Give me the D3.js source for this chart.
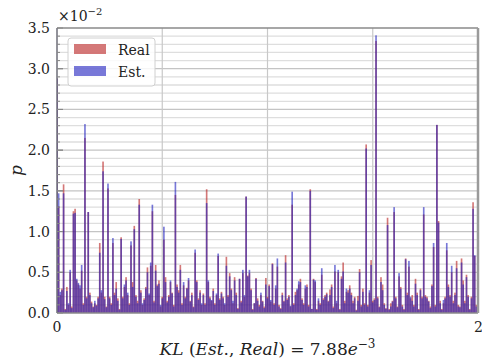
<!DOCTYPE html>
<html>
<head>
<meta charset="utf-8">
<script src="https://cdn.jsdelivr.net/npm/d3@7"></script>
<style>
  body { margin: 0; background: #fff; }
  svg { display: block; }
  text { font-family: "DejaVu Serif", serif; fill: #222; }
</style>
</head>
<body>
<div id="chart"></div>
<script>
// probabilities in units of 1e-2, one value per symbol 0..255
var realP = [
  2.88,1.31,0.22,0.30,1.58,0.05,0.32,0.10,0.50,0.08,1.25,1.28,0.40,0.35,0.30,0.52,
  0.12,2.15,0.20,1.24,0.25,0.14,0.08,0.12,0.10,0.20,0.86,0.25,1.86,0.20,0.08,1.53,
  0.20,0.12,0.86,0.25,0.38,0.18,0.05,0.93,0.20,0.32,0.44,0.22,0.12,0.83,0.38,1.07,
  0.22,0.15,1.40,0.28,0.10,0.18,0.32,0.56,0.22,0.58,1.25,0.15,0.59,0.35,0.40,0.08,
  0.20,0.90,0.44,0.15,0.22,0.38,0.25,0.10,1.45,0.35,0.28,0.59,0.12,0.34,0.20,0.31,
  0.40,0.15,0.25,0.08,0.74,0.40,0.18,0.28,0.10,0.24,0.12,1.52,0.38,0.20,0.15,0.30,
  0.12,0.22,0.70,0.18,0.26,0.20,0.10,0.69,0.22,0.49,0.30,0.12,0.44,0.25,0.06,0.42,
  0.15,0.49,0.20,1.43,0.46,0.49,0.30,0.05,0.12,0.43,0.18,0.10,0.22,0.15,0.08,0.43,
  0.20,0.35,0.14,0.61,0.12,0.30,0.57,0.10,0.06,0.25,0.15,0.71,0.18,0.22,0.08,1.33,
  0.12,0.26,0.28,0.35,0.42,0.18,0.12,0.30,0.35,0.10,1.52,0.05,0.42,0.38,0.05,0.15,
  0.12,0.47,0.18,0.22,0.25,0.15,0.29,0.35,0.08,0.51,0.12,0.50,0.05,0.45,0.62,0.15,
  0.26,0.28,0.34,0.25,0.15,0.20,0.04,0.21,0.54,0.10,0.30,0.12,2.07,0.10,0.25,0.65,
  0.15,0.18,3.34,0.20,0.08,0.44,0.35,0.12,0.06,1.17,0.05,0.12,0.15,1.24,0.20,0.08,
  0.45,0.32,0.10,0.05,0.67,0.25,0.57,0.18,0.22,0.10,0.42,0.25,0.05,0.30,0.20,1.21,
  0.22,0.20,0.15,0.08,0.35,0.81,0.10,2.31,1.13,0.15,0.05,0.12,0.20,0.77,0.35,0.22,
  0.50,0.15,0.25,0.64,0.10,0.08,0.67,0.40,0.15,0.47,0.22,0.05,0.20,1.36,0.70,0.10
];
var estP = [
  2.88,1.47,0.26,0.28,1.47,0.04,0.27,0.12,0.53,0.06,1.22,1.23,0.42,0.37,0.34,0.59,
  0.10,2.32,0.18,1.24,0.22,0.12,0.07,0.15,0.09,0.18,0.74,0.28,1.74,0.17,0.07,1.59,
  0.18,0.10,0.92,0.22,0.30,0.15,0.04,0.91,0.18,0.35,0.40,0.25,0.10,0.88,0.32,1.03,
  0.20,0.12,1.33,0.25,0.12,0.16,0.30,0.50,0.24,0.62,1.33,0.13,0.52,0.33,0.36,0.10,
  0.18,1.06,0.38,0.13,0.20,0.40,0.24,0.08,1.61,0.32,0.25,0.53,0.10,0.38,0.18,0.30,
  0.43,0.14,0.22,0.07,0.78,0.38,0.16,0.25,0.12,0.22,0.10,1.35,0.40,0.18,0.16,0.27,
  0.10,0.24,0.73,0.16,0.24,0.18,0.12,0.58,0.20,0.45,0.28,0.15,0.40,0.22,0.05,0.42,
  0.13,0.53,0.22,1.43,0.45,0.53,0.28,0.04,0.12,0.42,0.15,0.08,0.25,0.14,0.06,0.35,
  0.18,0.33,0.16,0.60,0.10,0.34,0.67,0.08,0.05,0.22,0.14,0.62,0.16,0.20,0.09,1.49,
  0.10,0.22,0.30,0.39,0.38,0.16,0.10,0.34,0.32,0.08,1.50,0.05,0.41,0.40,0.04,0.18,
  0.10,0.55,0.16,0.20,0.23,0.14,0.22,0.32,0.06,0.59,0.15,0.53,0.04,0.42,0.51,0.12,
  0.30,0.25,0.30,0.22,0.12,0.18,0.03,0.15,0.50,0.08,0.26,0.10,2.02,0.08,0.28,0.59,
  0.13,0.16,3.41,0.18,0.07,0.38,0.28,0.10,0.05,1.08,0.04,0.08,0.14,1.30,0.18,0.07,
  0.49,0.30,0.08,0.04,0.66,0.22,0.64,0.20,0.15,0.08,0.36,0.22,0.04,0.28,0.18,1.30,
  0.20,0.18,0.14,0.06,0.33,0.86,0.08,2.31,1.11,0.12,0.04,0.16,0.18,0.86,0.32,0.20,
  0.58,0.12,0.22,0.55,0.08,0.07,0.62,0.35,0.12,0.44,0.20,0.04,0.18,1.28,0.71,0.08
];
var yTicks = [0, 0.5, 1.0, 1.5, 2.0, 2.5, 3.0, 3.5];
var xGrid = [64, 128, 192];

var width = 482, height = 360;
var margin = {left: 57, right: 4, top: 28, bottom: 47};

var svg = d3.select("#chart").append("svg")
    .attr("width", width).attr("height", height);

var x = d3.scaleLinear().domain([0, 256]).range([margin.left, width - margin.right]);
var y = d3.scaleLinear().domain([0, 3.5]).range([height - margin.bottom, margin.top]);

svg.append("defs").append("clipPath").attr("id", "plot")
  .append("rect")
    .attr("x", x(0)).attr("y", y(3.5))
    .attr("width", x(256) - x(0)).attr("height", y(0) - y(3.5));

var g = svg.append("g");

/* grid: minor every 0.1, major every 0.5 */
var minor = d3.range(1, 35).map(function(d) { return d / 10; });
g.selectAll("line.minor").data(minor).enter().append("line")
    .attr("x1", x(0)).attr("x2", x(256))
    .attr("y1", function(d) { return y(d); }).attr("y2", function(d) { return y(d); })
    .style("stroke", function(d) { return Math.abs(d * 2 - Math.round(d * 2)) < 1e-6 ? "#c4c4c4" : "#dedede"; })
    .style("stroke-width", 1.3);
g.selectAll("line.vgrid").data(xGrid).enter().append("line")
    .attr("x1", function(d) { return x(d); }).attr("x2", function(d) { return x(d); })
    .attr("y1", y(0)).attr("y2", y(3.5))
    .style("stroke", "#c8c8c8").style("stroke-width", 1.2);

/* bars: real first, estimate over it, both translucent */
var bars = g.append("g").attr("clip-path", "url(#plot)");
bars.selectAll("rect.real").data(realP).enter().append("rect")
    .attr("x", function(d, i) { return x(i - 0.5); })
    .attr("width", x(1) - x(0))
    .attr("y", function(d) { return y(d); })
    .attr("height", function(d) { return y(0) - y(d); })
    .style("fill", "#b71e1e").style("fill-opacity", 0.6);
bars.selectAll("rect.est").data(estP).enter().append("rect")
    .attr("x", function(d, i) { return x(i - 0.5); })
    .attr("width", x(1) - x(0))
    .attr("y", function(d) { return y(d); })
    .attr("height", function(d) { return y(0) - y(d); })
    .style("fill", "#1e1ebe").style("fill-opacity", 0.6);

/* spines */
g.append("line").attr("x1", x(0)).attr("x2", x(256)).attr("y1", y(3.5)).attr("y2", y(3.5))
    .style("stroke", "#8a8a8a").style("stroke-width", 1.5);
g.append("line").attr("x1", x(0)).attr("x2", x(256)).attr("y1", y(0)).attr("y2", y(0))
    .style("stroke", "#8a8a8a").style("stroke-width", 1.5);
g.append("line").attr("x1", x(256)).attr("x2", x(256)).attr("y1", y(0)).attr("y2", y(3.5))
    .style("stroke", "#9a9a9a").style("stroke-width", 2.5);
g.append("line").attr("x1", x(0)).attr("x2", x(0)).attr("y1", y(0)).attr("y2", y(3.5))
    .style("stroke", "#6e6e78").style("stroke-width", 1.5);

/* y axis labels */
var yAxis = d3.axisLeft(y).tickValues(yTicks).tickSize(0).tickPadding(7)
    .tickFormat(d3.format(".1f"));
var ya = svg.append("g").attr("transform", "translate(" + x(0) + ",0)").call(yAxis);
ya.select(".domain").remove();
ya.selectAll("text").style("font-size", "14px").style("font-family", "DejaVu Serif, serif").attr("fill", "#222");
// small inward ticks
g.selectAll("line.ytick").data(minor.concat(yTicks)).enter().append("line")
    .attr("x1", x(0)).attr("x2", function(d) { return x(0) + (yTicks.indexOf(d) >= 0 ? 6 : 3); })
    .attr("y1", function(d) { return y(d); }).attr("y2", function(d) { return y(d); })
    .style("stroke", "#888").style("stroke-width", 1);

svg.append("text").attr("x", x(0) + 1).attr("y", 21).style("font-size", "14px")
  .text("\u00d710")
  .append("tspan").attr("dy", -6).style("font-size", "10px").text("\u22122");

/* x tick labels */
svg.append("text").attr("x", x(0)).attr("y", 332).attr("text-anchor", "middle")
    .style("font-size", "14px").text("0");
svg.append("text").attr("x", x(256) - 4).attr("y", 332)
    .style("font-size", "14px").text("2")
  .append("tspan").attr("dy", -6).style("font-size", "10px").text("8");

/* axis titles */
var xt = svg.append("text").attr("x", (x(0) + x(256)) / 2).attr("y", 355)
    .attr("text-anchor", "middle").style("font-size", "17px");
xt.append("tspan").style("font-style", "italic").text("KL");
xt.append("tspan").text(" (");
xt.append("tspan").style("font-style", "italic").text("Est");
xt.append("tspan").text(".,  ");
xt.append("tspan").style("font-style", "italic").text("Real");
xt.append("tspan").text(") = 7.88");
xt.append("tspan").style("font-style", "italic").text("e");
xt.append("tspan").attr("dy", -7).style("font-size", "12px").text("\u22123");

svg.append("text").attr("transform", "translate(22," + ((y(0) + y(3.5)) / 2) + ") rotate(-90)")
    .attr("text-anchor", "middle").style("font-size", "17px").style("font-style", "italic").text("p");

/* legend */
var lg = svg.append("g");
lg.append("rect").attr("x", 68).attr("y", 38).attr("width", 87).attr("height", 48)
    .attr("rx", 3).style("fill", "#fff").style("fill-opacity", 0.85)
    .style("stroke", "#d0d0d0").style("stroke-width", 1);
var items = [{name: "Real", color: "#b71e1e"}, {name: "Est.", color: "#1e1ebe"}];
lg.selectAll("rect.sw").data(items).enter().append("rect")
    .attr("x", 74).attr("y", function(d, i) { return 44 + i * 22; })
    .attr("width", 32).attr("height", 10)
    .style("fill", function(d) { return d.color; }).style("fill-opacity", 0.6);
lg.selectAll("text.lab").data(items).enter().append("text")
    .attr("x", 118).attr("y", function(d, i) { return 55 + i * 22; })
    .style("font-size", "14px").text(function(d) { return d.name; });
</script>
</body>
</html>
